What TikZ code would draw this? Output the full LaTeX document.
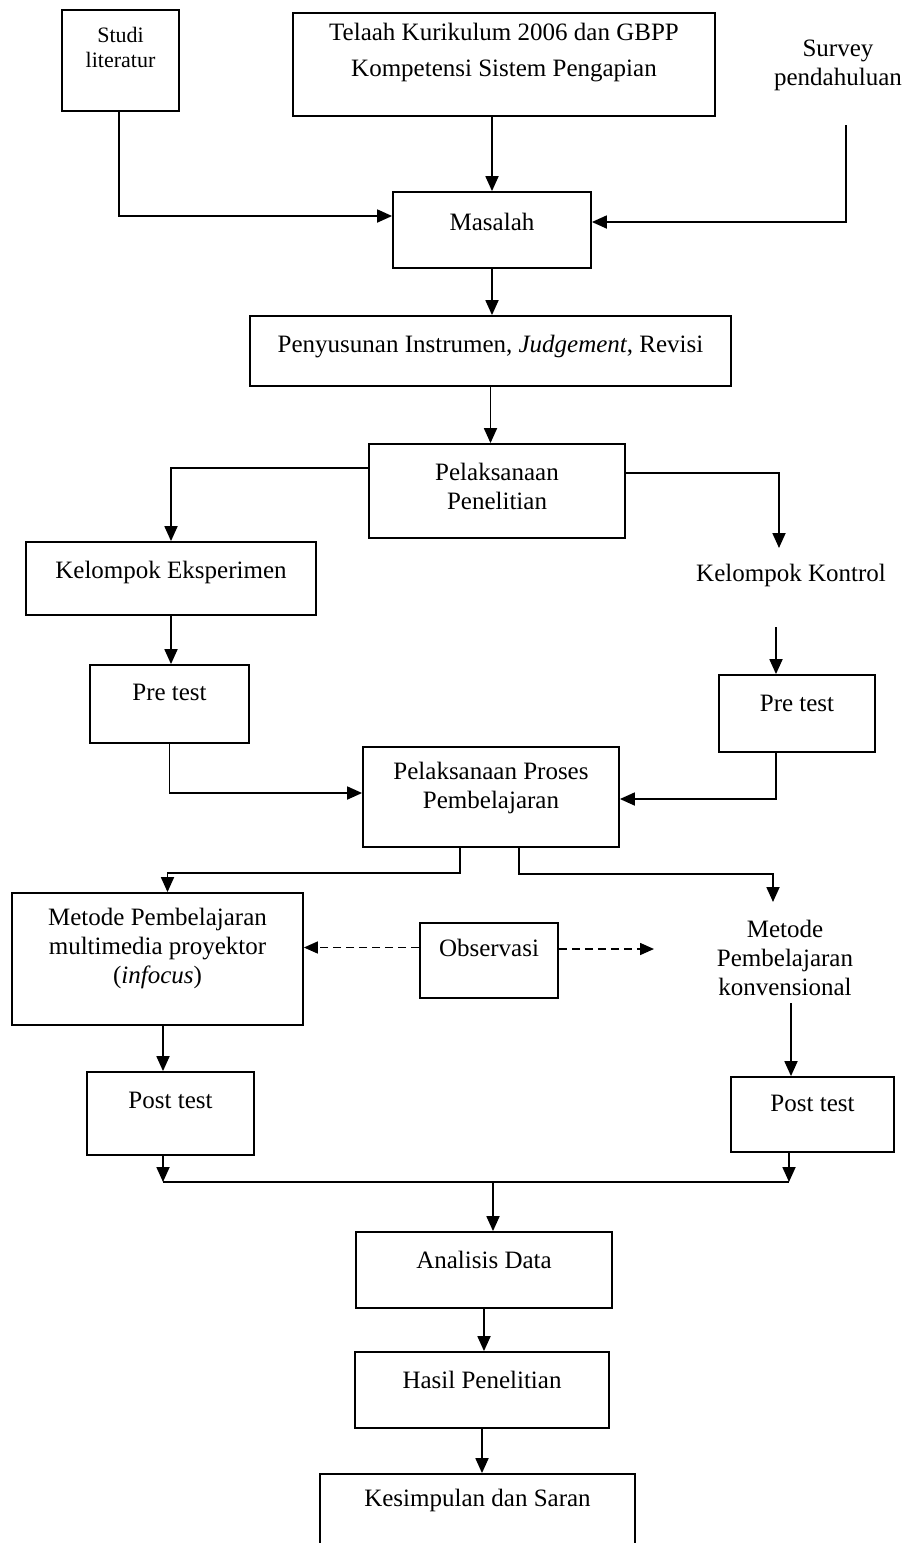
\documentclass[tikz,border=0pt]{standalone}
\usepackage{fontspec}
\setmainfont{Liberation Serif}
\usetikzlibrary{arrows.meta}
\tikzset{
  box/.style={draw, line width=1.8pt, rectangle, inner sep=0pt},
  txt/.style={align=center, inner sep=0pt, font=\fontsize{25}{29}\selectfont},
  small/.style={align=center, inner sep=0pt, font=\fontsize{22}{25}\selectfont},
  arr/.style={line width=1.8pt, -{Triangle[length=15pt,width=13pt]}},
  ln/.style={line width=1.8pt},
  darr/.style={line width=1.6pt, dash pattern=on 8pt off 5pt, -{Triangle[length=14pt,width=12pt]}},
}
\begin{document}
\begin{tikzpicture}[x=1pt,y=-1pt]
\useasboundingbox (0,0) rectangle (905,1543);
% boxes
\node[box, minimum width=117pt, minimum height=101pt] (studi) at (120.5,60.5) {};
\node[small] (studiT) at (120.5,47) {Studi\\literatur};
\node[box, minimum width=422pt, minimum height=103pt] (telaah) at (504,64.5) {};
\node[txt, font=\fontsize{25}{36}\selectfont] (telaahT) at (504,53) {Telaah Kurikulum 2006 dan GBPP\\Kompetensi Sistem Pengapian};
\node[txt] (survey) at (838,65) {Survey\\pendahuluan};
\node[box, minimum width=198pt, minimum height=76pt] (masalah) at (492,230) {};
\node[txt] (masalahT) at (492,222) {Masalah};
\node[box, minimum width=481pt, minimum height=70pt] (penyusun) at (490.5,351) {};
\node[txt] (penyusunT) at (490.5,347) {Penyusunan Instrumen, \textit{Judgement}, Revisi};
\node[box, minimum width=256pt, minimum height=94pt] (pelaks) at (497,491) {};
\node[txt] (pelaksT) at (497,486) {Pelaksanaan\\Penelitian};
\node[box, minimum width=290pt, minimum height=73pt] (eksp) at (171,578.5) {};
\node[txt] (ekspT) at (171,572) {Kelompok Eksperimen};
\node[txt] (kontrol) at (791,575) {Kelompok Kontrol};
\node[box, minimum width=159pt, minimum height=78pt] (pre1) at (169.5,704) {};
\node[txt] (pre1T) at (169.5,692) {Pre test};
\node[box, minimum width=156pt, minimum height=77pt] (pre2) at (797,713.5) {};
\node[txt] (pre2T) at (797,703) {Pre test};
\node[box, minimum width=256pt, minimum height=100pt] (proses) at (491,797) {};
\node[txt] (prosesT) at (491,787.5) {Pelaksanaan Proses\\Pembelajaran};
\node[box, minimum width=291pt, minimum height=132pt] (metode1) at (157.5,959) {};
\node[txt] (metode1T) at (157.5,948) {Metode Pembelajaran\\multimedia proyektor\\(\textit{infocus})};
\node[box, minimum width=138pt, minimum height=75pt] (obs) at (489,960.5) {};
\node[txt] (obsT) at (489,948) {Observasi};
\node[txt] (konv) at (785,957.5) {Metode\\Pembelajaran\\konvensional};
\node[box, minimum width=167pt, minimum height=83pt] (post1) at (170.5,1113.5) {};
\node[txt] (post1T) at (170.5,1100) {Post test};
\node[box, minimum width=163pt, minimum height=75pt] (post2) at (812.5,1114.5) {};
\node[txt] (post2T) at (812.5,1103) {Post test};
\node[box, minimum width=256pt, minimum height=76pt] (analisis) at (484,1270) {};
\node[txt] (analisisT) at (484,1260) {Analisis Data};
\node[box, minimum width=254pt, minimum height=76pt] (hasil) at (482,1390) {};
\node[txt] (hasilT) at (482,1380) {Hasil Penelitian};
\node[box, minimum width=315pt, minimum height=120pt] (kes) at (477.5,1534) {};
\node[txt] (kesT) at (477.5,1500) {Kesimpulan dan Saran};
% free ends
\coordinate (sv) at (846,125);
\coordinate (k1) at (779,548);
\coordinate (k2) at (776,627);
\coordinate (k3) at (773,902);
\coordinate (k4) at (654,949);
\coordinate (k5) at (791,1003);
\coordinate (jl) at (163,1182);
\coordinate (jr) at (789,1182);
\coordinate (jm) at (493,1182);
% connectors
\draw[arr] (studi.south -| 119,0) |- ([yshift=14pt]masalah.west);
\draw[arr] (sv) |- ([yshift=8pt]masalah.east);
\draw[arr] (telaah.south -| masalah.north) -- (masalah.north);
\draw[arr] (masalah.south) -- (masalah.south |- penyusun.north);
\draw[arr] (penyusun.south) -- (penyusun.south |- pelaks.north);
\draw[arr] ([yshift=23pt]pelaks.west) -| (eksp.north);
\draw[arr] ([yshift=18pt]pelaks.east) -| (k1);
\draw[arr] (eksp.south) -- (eksp.south |- pre1.north);
\draw[arr] (k2) -- (k2 |- pre2.north);
\draw[arr] (pre1.south) |- ([yshift=4pt]proses.west);
\draw[arr] (k2 |- pre2.south) |- ([yshift=-2pt]proses.east);
\draw[arr] ([xshift=-31pt]proses.south) -- ++(0,25) -| ([xshift=10pt]metode1.north);
\draw[arr] ([xshift=28pt]proses.south) -- ++(0,26) -| (k3);
\draw[darr] ([yshift=13pt]obs.west) -- ([yshift=13pt]obs.west -| metode1.east);
\draw[darr] (obs.east |- k4) -- (k4);
\draw[arr] (metode1.south -| jl) -- (jl |- post1.north);
\draw[arr] (k5) -- (k5 |- post2.north);
\draw[arr] (post1.south -| jl) -- (jl);
\draw[arr] (post2.south -| jr) -- (jr);
\draw[ln] (jl) -- (jr);
\draw[arr] (jm) -- (jm |- analisis.north);
\draw[arr] (analisis.south) -- (analisis.south |- hasil.north);
\draw[arr] (hasil.south) -- (hasil.south |- kes.north);
\end{tikzpicture}
\end{document}
